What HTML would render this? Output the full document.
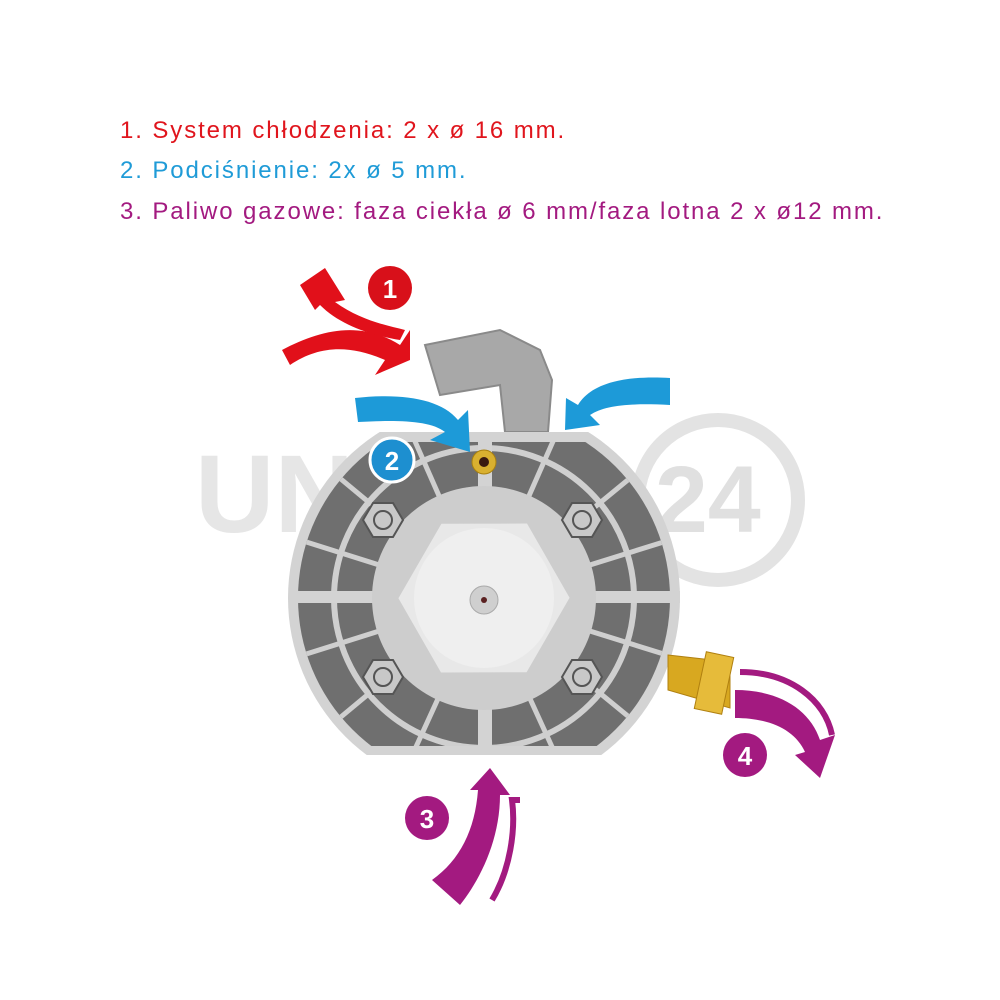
<!DOCTYPE html>
<html><head><style>
body{margin:0;background:#fff;width:1000px;height:1000px;overflow:hidden;position:relative;font-family:"Liberation Sans",sans-serif}
.t{position:absolute;left:120px;font-size:24px;letter-spacing:1.9px;white-space:nowrap}
</style></head><body>
<div class="t" style="top:117px;color:#e0151d">1. System chłodzenia: 2 x ø 16 mm.</div>
<div class="t" style="top:157px;color:#1f9bd7">2. Podciśnienie: 2x ø 5 mm.</div>
<div class="t" style="top:198px;color:#a31a80">3. Paliwo gazowe: faza ciekła ø 6 mm/faza lotna 2 x ø12 mm.</div>
<svg width="1000" height="1000" style="position:absolute;left:0;top:0">
<defs>
<clipPath id="b"><circle cx="484" cy="598" r="196"/></clipPath>
<clipPath id="d"><rect x="296" y="442" width="378" height="304"/></clipPath>
<clipPath id="c"><circle cx="484" cy="598" r="186"/></clipPath>
</defs>
<text x="195" y="532" font-family="Liberation Sans" font-weight="bold" font-size="110" fill="#e6e6e6">UNIGAZ</text>
<circle cx="718" cy="500" r="80" fill="none" stroke="#e3e3e3" stroke-width="14"/>
<text x="655" y="532" font-family="Liberation Sans" font-weight="bold" font-size="95" fill="#e0e0e0">24</text>
<path d="M425 345 L500 330 L540 350 L552 380 L548 432 L505 432 L500 385 L440 395 Z" fill="#a8a8a8" stroke="#8a8a8a" stroke-width="2"/>
<g clip-path="url(#b)">
<rect x="280" y="432" width="410" height="323" fill="#d3d3d3"/>
</g>
<g clip-path="url(#d)">
<g clip-path="url(#c)">
<rect x="296" y="442" width="378" height="304" fill="#6f6f6f"/>
<circle cx="484" cy="598" r="150" fill="none" stroke="#cfcfcf" stroke-width="6"/>
<g stroke="#cfcfcf" stroke-width="5">
<line x1="484" y1="598" x2="300" y2="540"/><line x1="484" y1="598" x2="300" y2="656"/>
<line x1="484" y1="598" x2="670" y2="540"/><line x1="484" y1="598" x2="670" y2="656"/>
<line x1="484" y1="598" x2="330" y2="470"/><line x1="484" y1="598" x2="640" y2="470"/>
<line x1="484" y1="598" x2="330" y2="726"/><line x1="484" y1="598" x2="640" y2="726"/>
<line x1="484" y1="598" x2="410" y2="430"/><line x1="484" y1="598" x2="558" y2="430"/>
<line x1="484" y1="598" x2="410" y2="760"/><line x1="484" y1="598" x2="558" y2="760"/>
</g>
</g>
</g>
<rect x="478" y="432" width="14" height="323" fill="#d3d3d3"/>
<rect x="290" y="591" width="390" height="12" fill="#d3d3d3"/>
<circle cx="484" cy="598" r="112" fill="#cdcdcd"/>
<polygon points="484,512 558,555 558,641 484,684 410,641 410,555" fill="#e8e8e8" transform="rotate(30 484 598)"/>
<circle cx="484" cy="598" r="70" fill="#efefef"/>
<circle cx="484" cy="600" r="14" fill="#cfcfcf" stroke="#aaa"/>
<circle cx="484" cy="600" r="3" fill="#5a2020"/>
<g fill="#c8c8c8" stroke="#555" stroke-width="2">
<g transform="translate(383,520)"><polygon points="-20,0 -10,-17 10,-17 20,0 10,17 -10,17"/><circle r="9"/></g>
<g transform="translate(582,520)"><polygon points="-20,0 -10,-17 10,-17 20,0 10,17 -10,17"/><circle r="9"/></g>
<g transform="translate(383,677)"><polygon points="-20,0 -10,-17 10,-17 20,0 10,17 -10,17"/><circle r="9"/></g>
<g transform="translate(582,677)"><polygon points="-20,0 -10,-17 10,-17 20,0 10,17 -10,17"/><circle r="9"/></g>
</g>
<circle cx="484" cy="462" r="12" fill="#d9b030" stroke="#a88010"/>
<circle cx="484" cy="462" r="5" fill="#3a1a10"/>
<path d="M668 655 L730 662 L730 708 L668 690 Z" fill="#d8a820" stroke="#b08010"/>
<rect x="700" y="654" width="28" height="58" fill="#e6bb3a" stroke="#b08010" transform="rotate(12 714 683)"/>
<path d="M282 350 C320 330 360 320 400 345 L410 330 L410 360 L375 375 L385 360 C350 345 320 345 290 365 Z" fill="#e1101a"/>
<path d="M300 285 L325 268 L345 300 L335 302 C360 320 385 325 405 330 L400 340 C370 335 340 325 320 305 L315 310 Z" fill="#e1101a"/>
<circle cx="390" cy="288" r="22" fill="#d8101a"/>
<text x="390" y="298" font-family="Liberation Sans" font-weight="bold" font-size="26" fill="#fff" text-anchor="middle">1</text>
<path d="M355 398 C400 393 440 398 458 420 L468 410 L470 452 L430 440 L445 432 C430 420 395 420 358 422 Z" fill="#1d9ad8"/>
<path d="M670 378 C620 375 590 385 578 405 L566 398 L565 430 L600 425 L590 415 C605 405 630 403 670 405 Z" fill="#1d9ad8"/>
<circle cx="392" cy="460" r="22" fill="#1d8fd0" stroke="#fff" stroke-width="3"/>
<text x="392" y="470" font-family="Liberation Sans" font-weight="bold" font-size="26" fill="#fff" text-anchor="middle">2</text>
<path d="M432 880 C460 860 475 830 478 790 L470 790 L490 768 L510 795 L500 795 C500 840 480 880 460 905 Z" fill="#a31a80"/>
<path d="M492 900 C510 870 516 830 512 800 L520 800" fill="none" stroke="#a31a80" stroke-width="6"/>
<circle cx="427" cy="818" r="22" fill="#a31a80"/>
<text x="427" y="828" font-family="Liberation Sans" font-weight="bold" font-size="26" fill="#fff" text-anchor="middle">3</text>
<path d="M735 690 C780 690 810 710 820 740 L835 735 L820 778 L795 755 L805 752 C795 730 770 718 735 718 Z" fill="#a31a80"/>
<path d="M740 672 C790 672 825 700 832 735" fill="none" stroke="#a31a80" stroke-width="6"/>
<circle cx="745" cy="755" r="22" fill="#a31a80"/>
<text x="745" y="765" font-family="Liberation Sans" font-weight="bold" font-size="26" fill="#fff" text-anchor="middle">4</text>
</svg>
</body></html>
